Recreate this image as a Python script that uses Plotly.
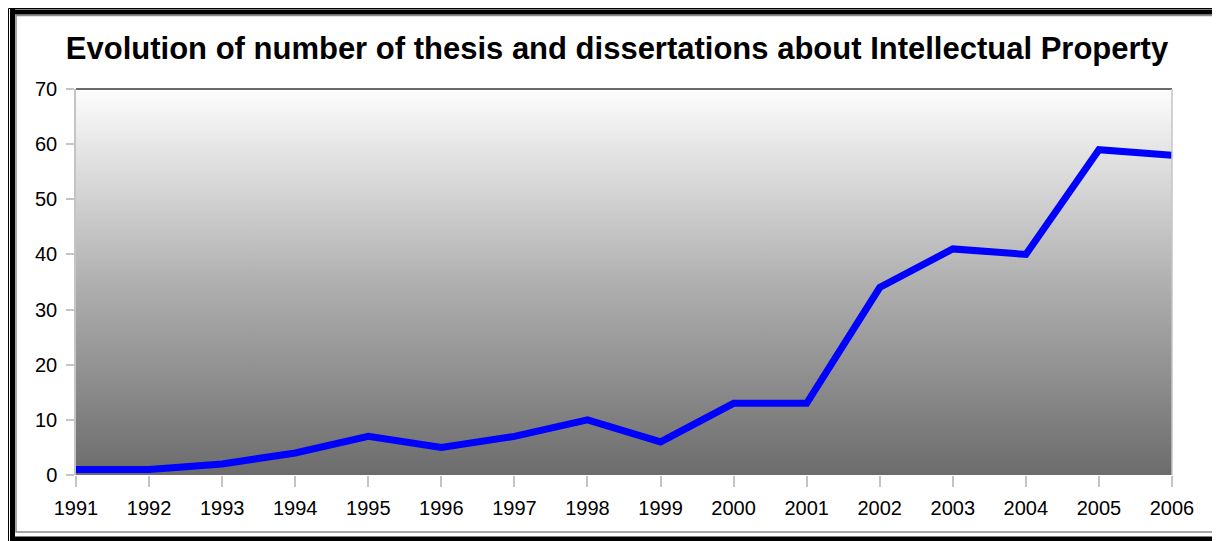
import plotly.graph_objects as go

years = ["1991", "1992", "1993", "1994", "1995", "1996", "1997", "1998",
         "1999", "2000", "2001", "2002", "2003", "2004", "2005", "2006"]
counts = [1, 1, 2, 4, 7, 5, 7, 10, 6, 13, 13, 34, 41, 40, 59, 58]
y_ticks = [0, 10, 20, 30, 40, 50, 60, 70]
title_text = "Evolution of number of thesis and dissertations about Intellectual Property"

OFF = 8  # page body margin
W, H = 1220 - OFF, 541 - OFF
L, R, T, B = 76 - OFF, 1172 - OFF, 89 - OFF, 475 - OFF
pw, ph = R - L, B - T


def px(x):
    return (x - OFF - L) / pw


def py(y):
    return (B - (y - OFF)) / ph


fig = go.Figure()

# gradient plot background
fig.add_trace(go.Scatter(
    x=[years[0], years[-1], years[-1], years[0], years[0]],
    y=[y_ticks[0], y_ticks[0], y_ticks[-1], y_ticks[-1], y_ticks[0]],
    mode="lines", line=dict(width=0), fill="toself",
    fillgradient=dict(type="vertical", start=y_ticks[0], stop=y_ticks[-1],
                      colorscale=[[0, "#6c6c6c"], [0.5, "#b0b0b0"], [1, "#fdfdfd"]]),
    hoverinfo="skip", showlegend=False,
))

fig.add_trace(go.Scatter(
    x=years, y=counts, mode="lines",
    line=dict(color="#0000ff", width=7),
    showlegend=False,
))

shapes = []
# frame: gray inner line and black thick borders
shapes.append(dict(type="rect", xref="paper", yref="paper",
                   x0=px(16), x1=px(1218), y0=py(532), y1=py(15.5),
                   line=dict(color="#8a8a8a", width=1.5), fillcolor="rgba(0,0,0,0)", layer="below"))
shapes.append(dict(type="line", xref="paper", yref="paper",
                   x0=px(12.5), x1=px(12.5), y0=py(9), y1=py(541),
                   line=dict(color="#000000", width=5)))
shapes.append(dict(type="line", xref="paper", yref="paper",
                   x0=px(10), x1=px(1220), y0=py(12), y1=py(12),
                   line=dict(color="#000000", width=5)))
shapes.append(dict(type="line", xref="paper", yref="paper",
                   x0=px(10), x1=px(1220), y0=py(539), y1=py(539),
                   line=dict(color="#000000", width=5)))
shapes.append(dict(type="line", xref="paper", yref="paper",
                   x0=px(8.5), x1=px(8.5), y0=py(8.5), y1=py(541),
                   line=dict(color="#000000", width=1)))
shapes.append(dict(type="line", xref="paper", yref="paper",
                   x0=px(8.5), x1=px(1220), y0=py(8.5), y1=py(8.5),
                   line=dict(color="#000000", width=1)))
# plot area borders
shapes.append(dict(type="line", xref="paper", yref="paper",
                   x0=0, x1=1, y0=1, y1=1,
                   line=dict(color="#6b6b6b", width=2)))
shapes.append(dict(type="line", xref="paper", yref="paper",
                   x0=1, x1=1, y0=0, y1=1,
                   line=dict(color="#c4c4c4", width=1.5)))

fig.update_layout(
    width=W, height=H,
    margin=dict(l=L, r=W - R, t=T, b=H - B),
    paper_bgcolor="#ffffff", plot_bgcolor="#ffffff",
    font=dict(family="Liberation Sans, Arial, sans-serif", color="#000000", size=20),
    title=dict(text=title_text, x=(617 - OFF) / W, xanchor="center", xref="container",
               y=1 - (48 - OFF) / H, yanchor="middle",
               font=dict(size=31, family="Liberation Sans, Arial, sans-serif", color="#000000",
                         weight="bold")),
    shapes=shapes,
    showlegend=False,
)

fig.update_xaxes(
    type="category", categoryorder="array", categoryarray=years,
    range=[0, len(years) - 1], showgrid=False, zeroline=False,
    showline=False,
    ticks="outside", ticklen=11, tickcolor="#c4c4c4", tickwidth=1.5,
    tickfont=dict(size=20), ticklabelstandoff=4,
)
fig.update_yaxes(
    range=[y_ticks[0], y_ticks[-1]], tickvals=y_ticks,
    showgrid=True, gridcolor="#000000", gridwidth=1,
    zeroline=False, showline=True, linecolor="#c4c4c4", linewidth=1.5,
    ticks="outside", ticklen=8, tickcolor="#c4c4c4", tickwidth=1.5,
    tickfont=dict(size=20), ticklabelstandoff=5,
)

fig.write_html("out.html")
